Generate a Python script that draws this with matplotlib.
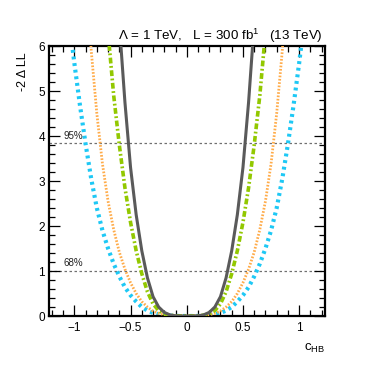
import matplotlib
matplotlib.use("Agg")
import matplotlib.pyplot as plt
import numpy as np
from matplotlib.ticker import MultipleLocator

plt.rcParams['font.family'] = ['Liberation Sans', 'DejaVu Sans']
plt.rcParams['mathtext.fontset'] = 'custom'
plt.rcParams['mathtext.rm'] = 'Liberation Sans'
plt.rcParams['mathtext.it'] = 'Liberation Sans:italic'

# values (curves are symmetric around 0)
x_half = [0.0, 0.05, 0.1, 0.15, 0.2, 0.25, 0.3, 0.35, 0.4, 0.45, 0.5,
          0.55, 0.6, 0.65, 0.7, 0.75, 0.8, 0.85, 0.9, 0.95, 1.0, 1.05]
black_half = [0.0, 0.0003, 0.005, 0.025, 0.08, 0.2, 0.43, 0.85, 1.45, 2.25,
              3.3, 4.75, 6.5]
green_half = [0.0, 0.0005, 0.004, 0.018, 0.05, 0.12, 0.27, 0.54, 0.94, 1.45,
              2.08, 2.85, 3.8, 4.9, 6.3]
orange_half = [0.0, 0.0002, 0.003, 0.012, 0.03, 0.06, 0.11, 0.2, 0.32, 0.5,
               0.74, 1.04, 1.42, 1.92, 2.55, 3.38, 4.5, 5.9, 7.6]
blue_half = [0.0, 0.0005, 0.002, 0.008, 0.02, 0.04, 0.07, 0.12, 0.2, 0.32,
             0.46, 0.64, 0.88, 1.16, 1.5, 1.9, 2.4, 3.05, 3.82, 4.68, 5.62, 6.65]

cl_levels = [1.0, 3.84]
cl_labels = ["68%", "95%"]


def mirror(ys):
    xs = np.array(x_half[:len(ys)])
    ys = np.array(ys)
    return np.concatenate([-xs[:0:-1], xs]), np.concatenate([ys[:0:-1], ys])


fig = plt.figure(figsize=(3.74, 3.65), dpi=100)
ax = fig.add_axes([0.1297, 0.1342, 0.7393, 0.7397])

for lev, lab in zip(cl_levels, cl_labels):
    ax.axhline(lev, color='#707070', lw=0.9, ls=(0, (2, 2)), zorder=1)
    ax.text(-1.1, lev + 0.06, lab, fontsize=7, ha='left', va='bottom', color='#222222')

xb, yb = mirror(blue_half)
ax.plot(xb, yb, color='#1ec8f5', lw=3.0, ls=(0, (0.7, 0.9)), zorder=2)
xo, yo = mirror(orange_half)
ax.plot(xo, yo, color='#ffac4a', lw=2.0, ls=(0, (0.6, 0.6)), zorder=3)
xg, yg = mirror(green_half)
ax.plot(xg, yg, color='#92c800', lw=2.6, ls=(0, (1.6, 0.7, 0.5, 0.7)), zorder=4)
xk, yk = mirror(black_half)
ax.plot(xk, yk, color='#5a5a5a', lw=2.2, ls='-', zorder=5)

ax.set_xlim(-1.23, 1.23)
ax.set_ylim(0, 6)
ax.xaxis.set_major_locator(MultipleLocator(0.5))
ax.xaxis.set_minor_locator(MultipleLocator(0.1))
ax.yaxis.set_major_locator(MultipleLocator(1))
ax.yaxis.set_minor_locator(MultipleLocator(0.2))
ax.set_xticks([-1, -0.5, 0, 0.5, 1])
ax.set_xticklabels(['\u22121', '\u22120.5', '0', '0.5', '1'])

ax.tick_params(which='both', direction='in', top=True, right=True, width=0.9,
               labelsize=8.5, color='black')
ax.tick_params(which='major', length=8)
ax.tick_params(which='minor', length=4)
ax.tick_params(axis='x', pad=4)
ax.tick_params(axis='y', pad=2.5)
for sp in ax.spines.values():
    sp.set_linewidth(1.6)

ax.set_xlabel(r'c$_{\rm HB}$', fontsize=9.5, ha='right')
ax.xaxis.set_label_coords(1.0, -0.095)
ax.set_ylabel('-2 \u0394 LL', fontsize=9, ha='right')
ax.yaxis.set_label_coords(-0.072, 0.975)

fig.text(0.864, 0.89, '\u039b = 1 TeV,   L = 300 fb$^{1}$   (13 TeV)',
         fontsize=9.6, ha='right', va='baseline')

fig.savefig('out.png', dpi=100)
